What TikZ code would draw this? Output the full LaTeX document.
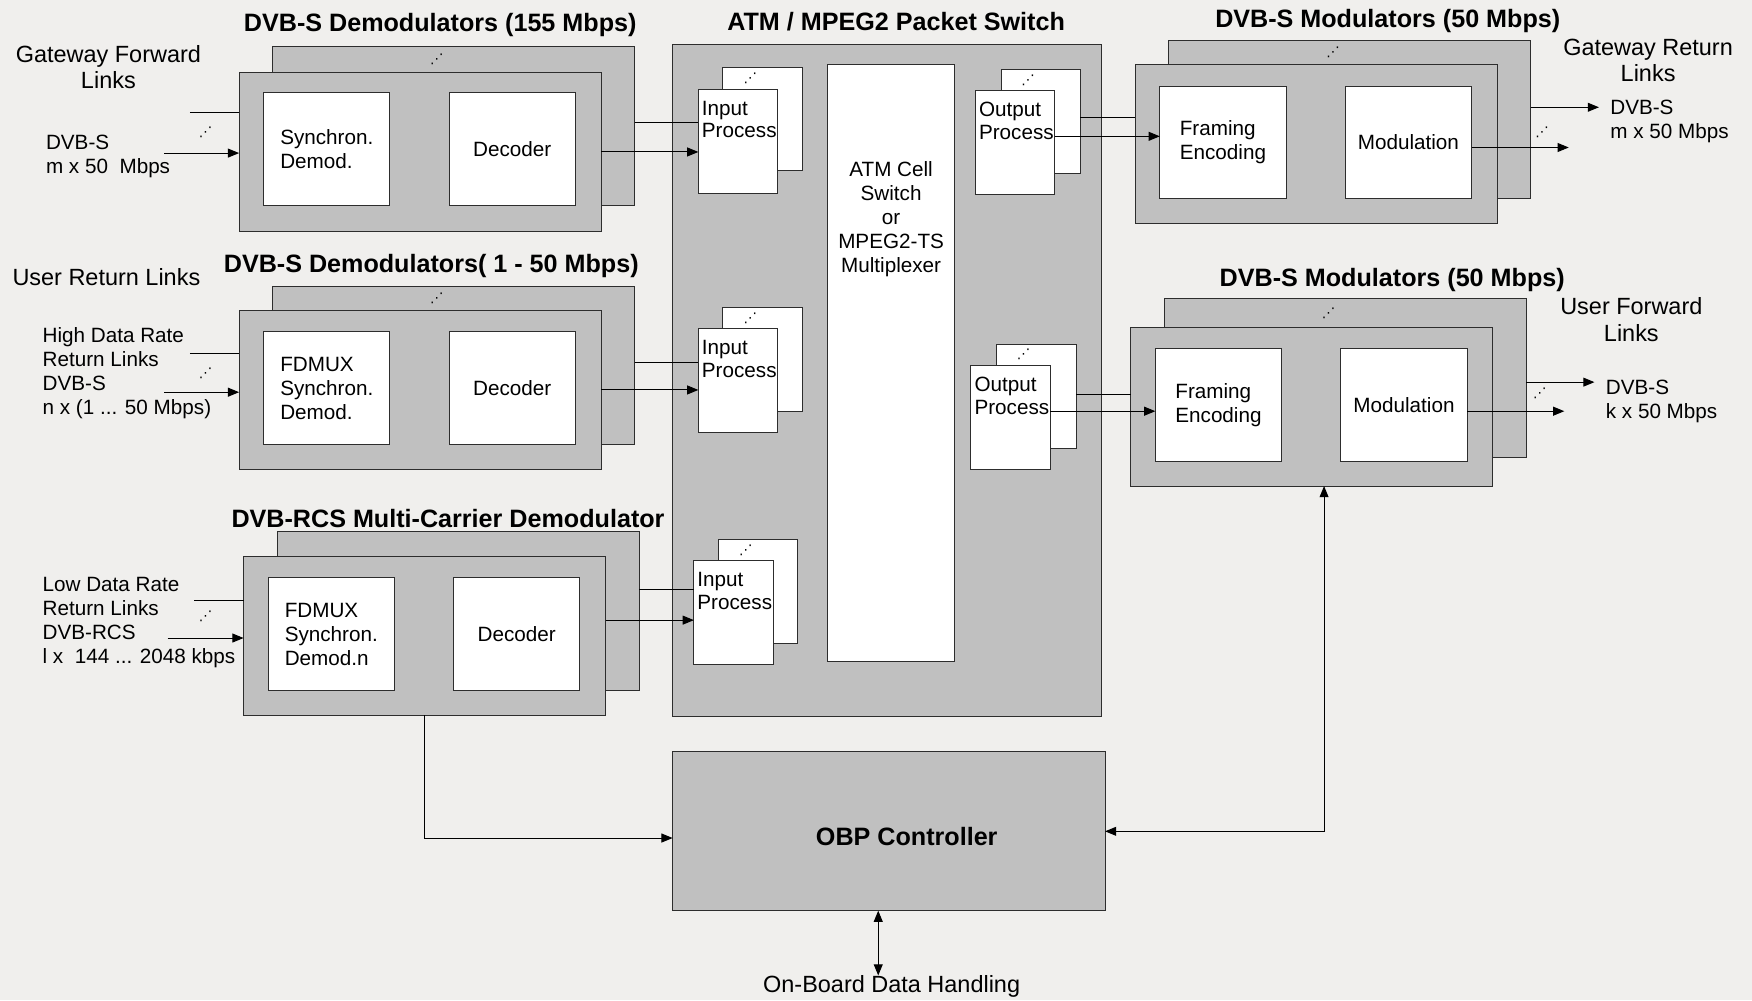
\documentclass[tikz,border=0pt]{standalone}
\usepackage{fontspec}
\setmainfont{Liberation Sans}
\newfontfamily\dotsfont{DejaVu Sans}
\usetikzlibrary{arrows.meta, positioning, calc}
\definecolor{paper}{RGB}{240,239,237}
\definecolor{boxgrey}{RGB}{192,192,192}
\definecolor{edgegrey}{RGB}{45,45,45}

\begin{document}
\begin{tikzpicture}[x=1pt, y=-1pt, >={Triangle[length=10pt,width=8pt]},
    panel/.style={rectangle, draw=edgegrey, fill=boxgrey, line width=0.9pt, inner sep=0pt, outer sep=0pt, anchor=north west, minimum width=324pt, minimum height=142pt},
    block/.style={rectangle, draw=edgegrey, fill=white, line width=0.9pt, inner sep=0pt, outer sep=0pt, anchor=north west, minimum width=113pt, minimum height=101pt, align=left, font=\fontsize{18.5}{21.5}\selectfont},
    proc/.style={rectangle, draw=edgegrey, fill=white, line width=0.9pt, inner sep=0pt, outer sep=0pt, anchor=north west, minimum width=71pt, minimum height=93pt},
    proctext/.style={anchor=north west, align=left, inner xsep=3pt, inner ysep=10pt, font=\fontsize{18.5}{20.5}\selectfont},
    heading/.style={font=\fontsize{22.5}{26}\selectfont\bfseries, inner sep=0pt},
    side/.style={font=\fontsize{21}{24}\selectfont, align=center, inner sep=0pt},
    note/.style={font=\fontsize{18.5}{21.5}\selectfont, align=left, inner sep=0pt, anchor=west},
    dotmark/.style={font=\fontsize{12}{12}\selectfont\dotsfont, inner sep=0pt},
    link/.style={line width=0.9pt, draw=black}]

    \fill [paper] (0,0) rectangle (1568,895);
    \useasboundingbox (0,0) rectangle (1568,895);

    % demodulators 155 Mbps
    \node [heading] at (394,22) {DVB-S Demodulators (155 Mbps)};
    \node [panel] (dm1b) at (244,42) {};
    \node [panel] (dm1) at ([shift={(-30,23)}]dm1b.north west) {};
    \node [block] (sy1) at ([shift={(22,18)}]dm1.north west) {Synchron.\\Demod.};
    \node [block, right=53pt of sy1] (de1) {Decoder};
    \node [dotmark] at ($(dm1b.north)!0.5!(dm1.north)$) {⋰};

    % demodulators 1 - 50 Mbps
    \node [heading] at (386,238) {DVB-S Demodulators( 1 - 50 Mbps)};
    \node [panel] (dm2b) at (244,256) {};
    \node [panel] (dm2) at ([shift={(-30,22)}]dm2b.north west) {};
    \node [block] (sy2) at ([shift={(22,19)}]dm2.north west) {FDMUX\\Synchron.\\Demod.};
    \node [block, right=53pt of sy2] (de2) {Decoder};
    \node [dotmark] at ($(dm2b.north)!0.5!(dm2.north)$) {⋰};

    % multi-carrier demodulator
    \node [heading] at (401,464) {DVB-RCS Multi-Carrier Demodulator};
    \node [panel] (dm3b) at (248,476) {};
    \node [panel] (dm3) at ([shift={(-30,22)}]dm3b.north west) {};
    \node [block] (sy3) at ([shift={(22,19)}]dm3.north west) {FDMUX\\Synchron.\\Demod.n};
    \node [block, right=53pt of sy3] (de3) {Decoder};

    % packet switch
    \node [heading] at (802,19) {ATM / MPEG2 Packet Switch};
    \node [panel, minimum width=384pt, minimum height=601pt] (psw) at (602,40) {};
    \node [block, minimum height=534pt, label={[anchor=north, yshift=-86pt, inner sep=0pt, align=center, font=\fontsize{18.5}{21.5}\selectfont]north:ATM Cell\\Switch\\or\\MPEG2-TS\\Multiplexer}] (atm) at (741,58) {};

    \node [proc] (in1b) at (647,60) {};
    \node [proc, label={[proctext]north west:Input\\Process}] (in1) at ([shift={(-22,20)}]in1b.north west) {};
    \node [dotmark] at ($(in1b.north)!0.5!(in1.north)$) {⋰};
    \node [proc] (in2b) at (647,275) {};
    \node [proc, label={[proctext]north west:Input\\Process}] (in2) at ([shift={(-22,19)}]in2b.north west) {};
    \node [dotmark] at ($(in2b.north)!0.5!(in2.north)$) {⋰};
    \node [proc] (in3b) at (643,483) {};
    \node [proc, label={[proctext]north west:Input\\Process}] (in3) at ([shift={(-22,19)}]in3b.north west) {};
    \node [dotmark] at ($(in3b.north)!0.5!(in3.north)$) {⋰};

    \node [proc] (out1b) at (896,62) {};
    \node [proc, label={[proctext]north west:Output\\Process}] (out1) at ([shift={(-23,19)}]out1b.north west) {};
    \node [dotmark] at ($(out1b.north)!0.5!(out1.north)$) {⋰};
    \node [proc] (out2b) at (892,308) {};
    \node [proc, label={[proctext]north west:Output\\Process}] (out2) at ([shift={(-23,19)}]out2b.north west) {};
    \node [dotmark] at ($(out2b.north)!0.5!(out2.north)$) {⋰};

    % modulators
    \node [heading] at (1242,19) {DVB-S Modulators (50 Mbps)};
    \node [panel] (md1b) at (1046,36) {};
    \node [panel] (md1) at ([shift={(-30,22)}]md1b.north west) {};
    \node [block] (fr1) at ([shift={(22,19)}]md1.north west) {Framing\\Encoding};
    \node [block, right=53pt of fr1] (mo1) {Modulation};
    \node [dotmark] at ($(md1b.north)!0.5!(md1.north)$) {⋰};

    \node [heading] at (1246,251) {DVB-S Modulators (50 Mbps)};
    \node [panel] (md2b) at (1042,267) {};
    \node [panel] (md2) at ([shift={(-30,26)}]md2b.north west) {};
    \node [block] (fr2) at ([shift={(22,19)}]md2.north west) {Framing\\Encoding};
    \node [block, right=53pt of fr2] (mo2) {Modulation};
    \node [dotmark] at ($(md2b.north)!0.5!(md2.north)$) {⋰};

    % controller
    \node [panel, minimum width=387pt, minimum height=142pt, label={[xshift=16pt, yshift=-5pt, inner sep=0pt, font=\fontsize{22.5}{26}\selectfont\bfseries]center:OBP Controller}] (obp) at (602,673) {};
    \node [side] (odh) at (798,883) {On-Board Data Handling};

    % link labels
    \node [side] at (97,60) {Gateway Forward\\Links};
    \node [note] at (41,140) {DVB-S\\m x 50\ \ Mbps};
    \node [side, anchor=west] at (11,248) {User Return Links};
    \node [note] at (38,334) {High Data Rate\\Return Links\\DVB-S\\n x (1 ... 50 Mbps)};
    \node [note] at (38,557) {Low Data Rate\\Return Links\\DVB-RCS\\l x\ \ 144 ... 2048 kbps};
    \node [side] at (1475,54) {Gateway Return\\Links};
    \node [note] at (1441,108.5) {DVB-S\\m x 50 Mbps};
    \node [side] at (1460,286) {User Forward\\Links};
    \node [note] at (1437,359) {DVB-S\\k x 50 Mbps};

    \node [dotmark] at (184,118) {⋰};
    \node [dotmark] at (184,334) {⋰};
    \node [dotmark] at (184,552) {⋰};
    \node [dotmark] at (1380,118) {⋰};
    \node [dotmark] at (1378,352) {⋰};

    % inputs
    \coordinate (gfa) at (170,101);
    \coordinate (gfb) at (147,137);
    \coordinate (ura) at (170,316);
    \coordinate (urb) at (147,351);
    \coordinate (lra) at (174,537);
    \coordinate (lrb) at (150,571);
    \draw [link] (gfa) -- (gfa -| dm1.west);
    \draw [link, ->] (gfb) -- (gfb -| dm1.west);
    \draw [link] (ura) -- (ura -| dm2.west);
    \draw [link, ->] (urb) -- (urb -| dm2.west);
    \draw [link] (lra) -- (lra -| dm3.west);
    \draw [link, ->] (lrb) -- (lrb -| dm3.west);

    % demodulators to switch
    \draw [link] (dm1b.east |- 0,110) -- (in1.west |- 0,110);
    \draw [link, ->] (dm1.east) -- (in1.west |- dm1.east);
    \draw [link] (dm2b.east |- 0,324) -- (in2.west |- 0,324);
    \draw [link, ->] (dm2.east) -- (in2.west |- dm2.east);
    \draw [link] (dm3b.east |- 0,528) -- (in3.west |- 0,528);
    \draw [link, ->] (dm3.east |- 0,555) -- (in3.west |- 0,555);

    % switch to modulators
    \draw [link] (out1b.east |- 0,105) -- (md1.west |- 0,105);
    \draw [link, ->] (out1.east |- 0,122) -- (fr1.west |- 0,122);
    \draw [link] (out2b.east |- 0,353) -- (md2.west |- 0,353);
    \draw [link, ->] (out2.east |- 0,368) -- (fr2.west |- 0,368);

    % outputs
    \coordinate (gra) at (1431,96);
    \coordinate (grb) at (1404,132);
    \coordinate (ufa) at (1427,342);
    \coordinate (ufb) at (1400,368);
    \draw [link, ->] (md1b.east |- gra) -- (gra);
    \draw [link, ->] (mo1.east |- grb) -- (grb);
    \draw [link, ->] (md2b.east |- ufa) -- (ufa);
    \draw [link, ->] (mo2.east |- ufb) -- (ufb);

    % control
    \draw [link, ->] (dm3.south -| 380,0) |- ([yshift=-6pt]obp.west);
    \draw [link, <->] (md2.south -| 1185,0) |- (obp.east);
    \draw [link, <->] (obp.south -| 786,0) -- (odh.north -| 786,0);

\end{tikzpicture}
\end{document}
